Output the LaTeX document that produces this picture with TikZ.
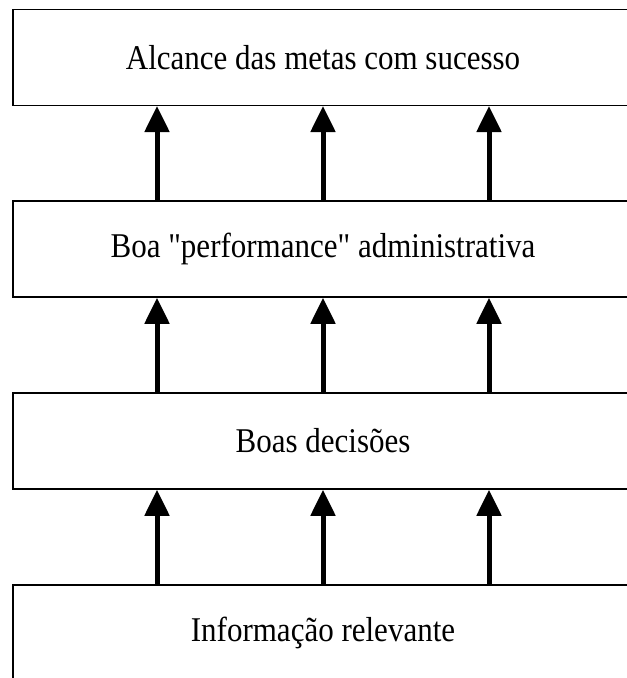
\documentclass[tikz,border=0pt]{standalone}
\usepackage{fontspec}
\setmainfont{Liberation Serif}[Ligatures=TeXOff]
\usetikzlibrary{arrows.meta}

\tikzset{
  level/.style={draw=black, line width=1.5pt, fill=white, rectangle,
    minimum width=620pt, minimum height=96pt, inner sep=0pt,
    font=\fontsize{31}{37}\selectfont},
  uparrow/.style={line width=5pt, -{Triangle[width=24pt,length=26pt]}}
}

\newcommand{\tallText}[1]{\scalebox{1}[1.12]{#1}}

\begin{document}
\begin{tikzpicture}[x=1pt, y=-1pt]
  \useasboundingbox (0,0) rectangle (627,678);

  % Four stacked levels, bottom to top
  \node[level] (goal) at (323,57.25) {\tallText{Alcance das metas com sucesso}};
  \node[level] (perf) at (323,249)   {\tallText{Boa "performance" administrativa}};
  \node[level] (dec)  at (323,441)   {\tallText{Boas decisões}};
  \node[level] (info) at (323,633)   {\tallText{Informação relevante}};

  % Three arrows between each pair of neighbouring levels
  \foreach \lo/\hi in {info/dec, dec/perf, perf/goal} {
    \foreach \x in {157,323,489} {
      \draw[uparrow] (\lo.north -| \x,0) -- (\hi.south -| \x,0);
    }
  }
\end{tikzpicture}
\end{document}
